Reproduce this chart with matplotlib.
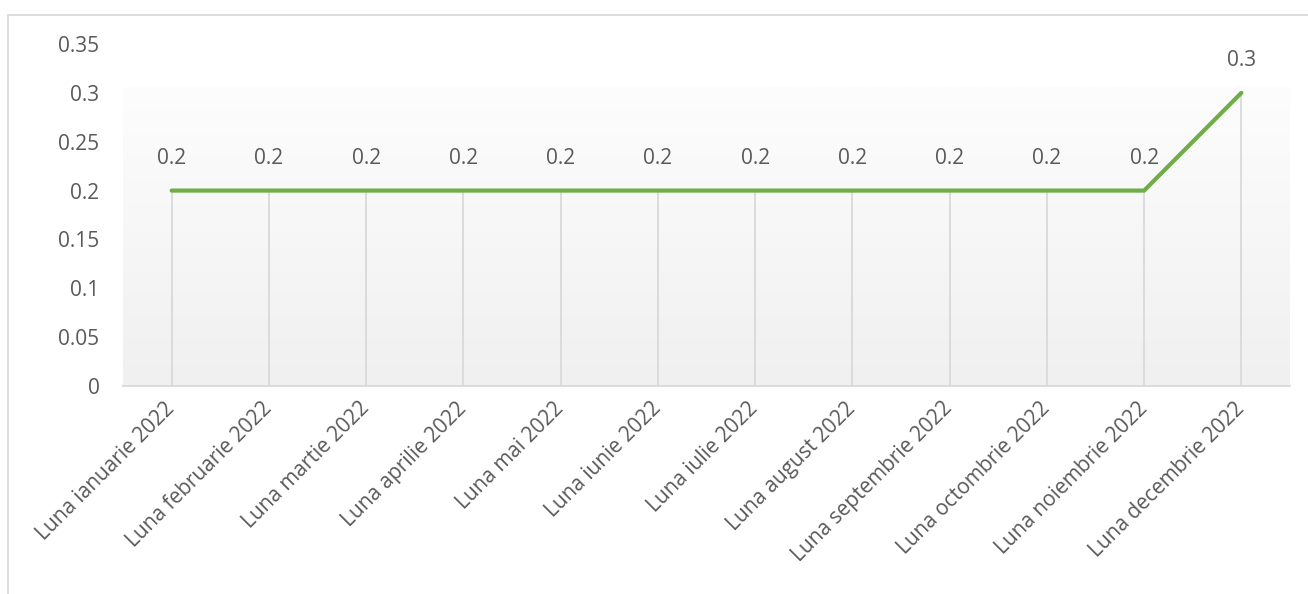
import numpy as np
import matplotlib.pyplot as plt
from matplotlib.patches import Rectangle
from matplotlib.colors import LinearSegmentedColormap

luni = ['Luna ianuarie 2022', 'Luna februarie 2022', 'Luna martie 2022',
        'Luna aprilie 2022', 'Luna mai 2022', 'Luna iunie 2022',
        'Luna iulie 2022', 'Luna august 2022', 'Luna septembrie 2022',
        'Luna octombrie 2022', 'Luna noiembrie 2022', 'Luna decembrie 2022']
valori = [0.2, 0.2, 0.2, 0.2, 0.2, 0.2, 0.2, 0.2, 0.2, 0.2, 0.2, 0.3]
y_ticks = [0, 0.05, 0.1, 0.15, 0.2, 0.25, 0.3, 0.35]
y_labels = ['0', '0.05', '0.1', '0.15', '0.2', '0.25', '0.3', '0.35']

plt.rcParams['font.family'] = ['Open Sans', 'DejaVu Sans']
txt = '#595959'
fs = 15

fig = plt.figure(figsize=(13.08, 5.94), dpi=100)
ax = fig.add_axes([123/1308, 1 - 386/594, (1290-123)/1308, (386-44)/594])

x = np.arange(len(luni))
ax.set_xlim(-0.5, len(luni) - 0.5)
ax.set_ylim(0, 0.35)

# gradient fill of the plot area (white top -> light grey bottom)
grad = np.linspace(1, 0, 256).reshape(-1, 1)
cmap = LinearSegmentedColormap.from_list('g', ['#f0f0f0', '#fdfdfd'])
ax.imshow(grad, cmap=cmap, extent=[-0.5, len(luni) - 0.5, 0, 0.305],
          aspect='auto', zorder=0, vmin=0, vmax=1)

# drop lines
ax.vlines(x, 0, valori, color='#d9d9d9', lw=1.3, zorder=1)
ax.plot(x, valori, color='#70ad47', lw=3, solid_capstyle='round', zorder=3)

for xi, v in zip(x, valori):
    ax.annotate(str(v), (xi, v), xytext=(0, 23), textcoords='offset points',
                ha='center', va='center', fontsize=fs, color=txt)

for s in ['top', 'right', 'left']:
    ax.spines[s].set_visible(False)
ax.spines['bottom'].set_color('#d9d9d9')
ax.spines['bottom'].set_linewidth(1.3)

ax.set_yticks(y_ticks)
ax.set_yticklabels(y_labels, fontsize=fs, color=txt)
ax.set_xticks(x)
ax.set_xticklabels(luni, rotation=45, ha='right', va='center', rotation_mode='anchor',
                   fontsize=fs, color=txt)
ax.tick_params(axis='both', length=0)
ax.tick_params(axis='y', pad=17)
ax.tick_params(axis='x', pad=14)

fig.patches.append(Rectangle((8/1308, -0.1), 1.0, 1.1 - 15/594, transform=fig.transFigure,
                             fill=False, edgecolor='#d9d9d9', lw=1.3))

fig.savefig('out.png', dpi=100)
